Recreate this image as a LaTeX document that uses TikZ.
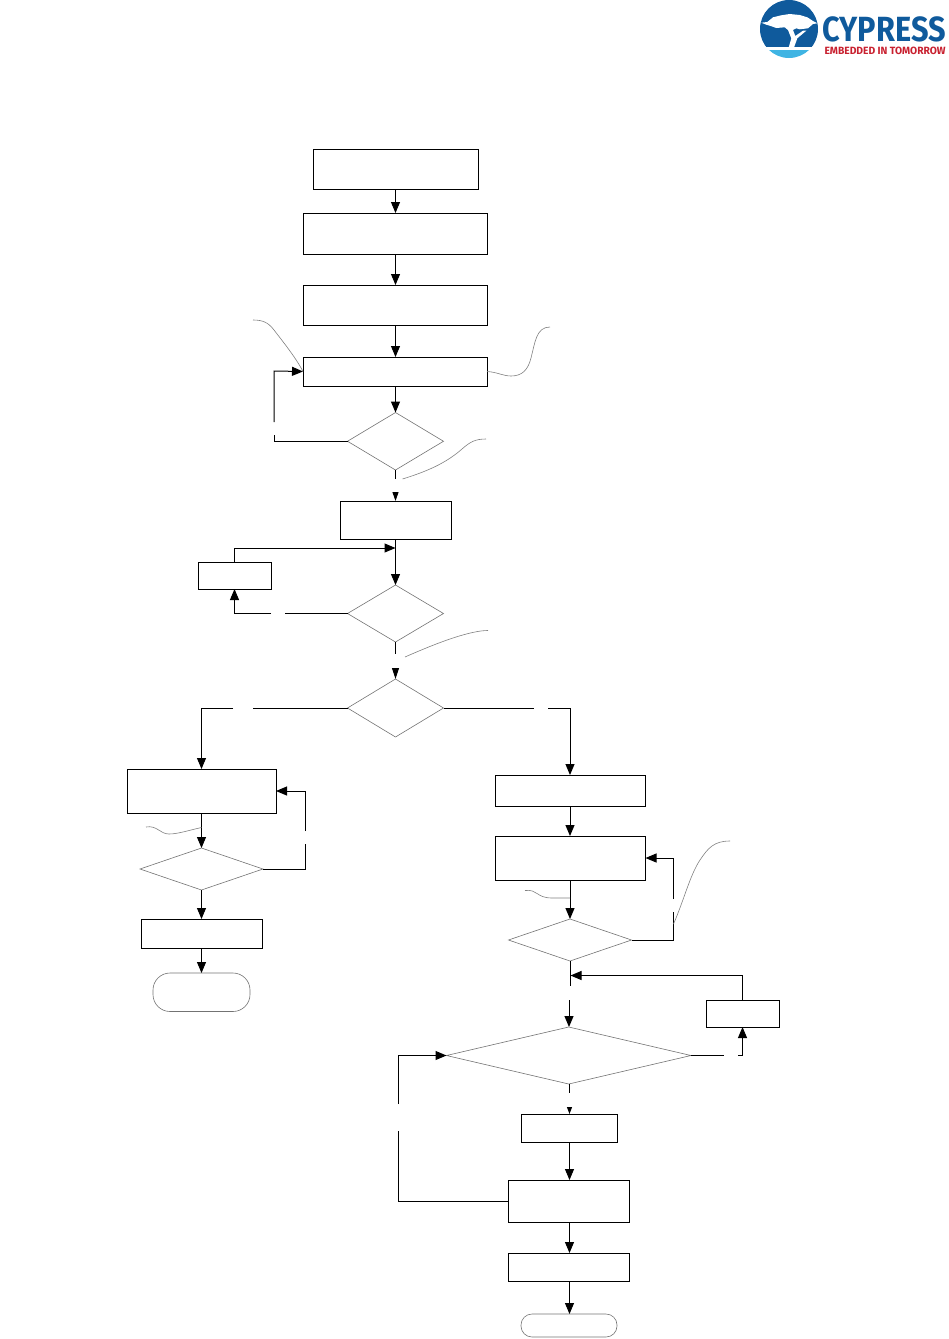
\documentclass[tikz,border=0pt]{standalone}
\usepackage{fontspec}
\setmainfont{Fira Sans}
\usetikzlibrary{arrows.meta,shapes.geometric,calc}
\definecolor{logoblue}{HTML}{0F5A9C}
\definecolor{logosky}{HTML}{3FB4E3}
\definecolor{logored}{HTML}{C8202F}
\definecolor{leadgrey}{HTML}{808080}
\tikzset{
  box/.style={draw=black,line width=1pt,rectangle,inner sep=0pt,outer sep=0pt},
  term/.style={draw=black!55,line width=0.6pt,rectangle,inner sep=0pt,outer sep=0pt},
  conn/.style={draw=black,line width=1pt},
  arr/.style={conn,-{Triangle[length=11pt,width=9pt]}},
  leadline/.style={draw=leadgrey,line width=0.6pt},
}
% left, top, right, bottom
\newcommand{\bx}[6][box]{\path[#1] (#3,#4) rectangle (#5,#6);
  \coordinate (#2c) at ({(#3+#5)/2},{(#4+#6)/2});
  \node[inner sep=0pt,outer sep=0pt,rectangle,minimum width={(#5-#3)*1pt},minimum height={(#6-#4)*1pt}] (#2) at (#2c) {};}
\newcommand{\dm}[5]{\path[draw=black!55,line width=0.6pt] (#2,{(#3+#5)/2}) -- ({(#2+#4)/2},#3) -- (#4,{(#3+#5)/2}) -- ({(#2+#4)/2},#5) -- cycle;
  \coordinate (#1w) at (#2,{(#3+#5)/2});
  \coordinate (#1e) at (#4,{(#3+#5)/2});
  \coordinate (#1n) at ({(#2+#4)/2},#3);
  \coordinate (#1s) at ({(#2+#4)/2},#5);}
\begin{document}
\begin{tikzpicture}[x=1pt,y=-1pt]
\useasboundingbox (0,0) rectangle (949,1339);
% boxes
\bx{b1}{313}{149}{478}{189}
\bx{b2}{303}{213}{487}{254}
\bx{b3}{303}{285}{487}{325}
\bx{b4}{303}{357}{487}{386}
\bx{b5}{340}{501}{451}{539}
\bx{b6}{198}{562}{271.5}{589}
\bx{b7}{127}{769}{276}{813}
\bx{b8}{141}{919}{262.5}{948}
\bx{b9}{495}{775}{645}{806}
\bx{b10}{495}{836}{645.5}{880}
\bx{b11}{706}{1000}{779.5}{1027}
\bx{b12}{521}{1114}{617.5}{1142}
\bx{b13}{508}{1180}{629.5}{1222}
\bx{b14}{508}{1253}{629.5}{1281}
\bx[term,rounded corners=17pt]{t1}{153}{973}{250}{1011.5}
\bx[term,rounded corners=11pt]{t2}{521}{1314}{617}{1337}
% diamonds
\dm{d1}{347.5}{412.5}{443.5}{470}
\dm{d2}{347.5}{585}{443.5}{642}
\dm{d3}{347.5}{679}{443.5}{737}
\dm{d4}{140}{848}{263}{890}
\dm{d5}{508.5}{919}{631.5}{961}
\dm{d6}{446.5}{1027}{691}{1084}
% straight arrows
\draw[arr] (b1.south -| d1n) -- (b2.north -| d1n);
\draw[arr] (b2.south -| d1n) -- (b3.north -| d1n);
\draw[arr] (b3.south -| d1n) -- (b4.north -| d1n);
\draw[arr] (b4.south -| d1n) -- (d1n);
\draw[conn] (d1s) -- ++(0,9);
\coordinate (s1) at (395.5,492);
\draw[conn,-{Triangle[length=9pt,width=6pt]}] (s1) -- (b5.north -| s1);
\draw[arr] (b5.south -| d2n) -- (d2n);
\draw[conn] (d2s) -- ++(0,12);
\coordinate (s2) at (395.5,668);
\draw[conn,-{Triangle[length=11pt,width=7pt]}] (s2) -- (d3n);
% d1 loop
\coordinate (g1a) at (274,435); \coordinate (g1b) at (274,422);
\draw[conn] (d1w) -- (d1w -| g1a) -- (g1a);
\draw[arr] (g1b) -- (274,371) -- (b4.west);
% b6 loop
\draw[arr] (b6.north -| 234.5,0) -- (234.5,548) -- (395.5,548);
\coordinate (g2a) at (285,613.5); \coordinate (g2b) at (271,613.5);
\draw[conn] (d2w) -- (g2a);
\draw[arr] (g2b) -- (234.5,613.5) -- (b6.south -| 234.5,0);
% d3 branches
\coordinate (g3a) at (253,708); \coordinate (g3b) at (233,708);
\draw[conn] (d3w) -- (g3a);
\draw[arr] (g3b) -- (201.5,708) -- (b7.north);
\coordinate (g4a) at (534,708); \coordinate (g4b) at (548,708);
\draw[conn] (d3e) -- (g4a);
\draw[arr] (g4b) -- (570,708) -- (b9.north -| 570,0);
% left branch
\draw[arr] (b7.south) -- (d4n);
\draw[arr] (d4s) -- (b8.north -| d4s);
\draw[arr] (b8.south -| d4s) -- (t1.north -| d4s);
\coordinate (g5a) at (305,844); \coordinate (g5b) at (305,831);
\draw[conn] (d4e) -- (d4e -| g5a) -- (g5a);
\draw[arr] (g5b) -- (305,791) -- (b7.east |- 0,791);
% right branch
\draw[arr] (b9.south -| d5n) -- (b10.north -| d5n);
\draw[arr] (b10.south -| d5n) -- (d5n);
\coordinate (g6a) at (673.5,912); \coordinate (g6b) at (673.5,899);
\draw[conn] (d5e) -- (d5e -| g6a) -- (g6a);
\draw[arr] (g6b) -- (673.5,858) -- (b10.east |- 0,858);
\draw[conn] (d5s -| 570.5,0) -- (570.5,986);
\draw[arr] (569,1000) -- (d6n -| 569,0);
\draw[arr] (b11.north -| 742.5,0) -- (742.5,975.5) -- (570.5,975.5);
\coordinate (g7a) at (724,1055.5); \coordinate (g7b) at (738,1055.5);
\draw[conn] (d6e) -- (g7a);
\draw[arr] (g7b) -- (742.5,1055.5) -- (b11.south -| 742.5,0);
\draw[conn] (d6s -| 569.5,0) -- (569.5,1093);
\coordinate (s3) at (569.5,1107);
\draw[conn,-{Triangle[length=7pt,width=5pt]}] (s3) -- (b12.north -| s3);
\draw[arr] (b12.south -| s3) -- (b13.north -| s3);
\draw[arr] (b13.south -| s3) -- (b14.north -| s3);
\draw[arr] (b14.south -| s3) -- (t2.north -| s3);
\coordinate (g8a) at (398.5,1131); \coordinate (g8b) at (398.5,1104);
\draw[conn] (b13.west) -- (b13.west -| g8a) -- (g8a);
\draw[arr] (g8b) -- (398.5,1055.5) -- (d6w);
% leader curves
\draw[leadline] (253,320) .. controls (262,320) and (268,322) .. (274,330) .. controls (284,343) and (296,358) .. (b4.west);
\draw[leadline] (b4.east) .. controls (497,372) and (503,376) .. (511,376) .. controls (522,376) and (528,370) .. (531,358) .. controls (535,343) and (536,327) .. (550,327);
\draw[leadline] (402.5,479) .. controls (425,472) and (445,464) .. (462,449) .. controls (470,442) and (475,439) .. (486,439);
\draw[leadline] (405,657) .. controls (430,646) and (455,636) .. (475,632) .. controls (480,631) and (484,630.5) .. (488,630.5);
\draw[leadline] (146,827) .. controls (157,825) and (160,834) .. (169,834) .. controls (178,834) and (190,830) .. (201.5,827.5);
\draw[leadline] (525,890.5) .. controls (538,889) and (536,898) .. (552,898) -- (570,898);
\draw[leadline] (673.5,924) .. controls (684,900) and (690,875) .. (700,860) .. controls (708,848) and (714,841) .. (730,841);
% logo
\begin{scope}
\clip (789,29) circle[radius=29];
\fill[logoblue] (758,-2) rectangle (820,47);
\fill[logosky] (758,50) rectangle (820,60);
\path[fill=white] (761.3,22.7) -- (767.3,22) -- (773,17.3) -- (781.3,15.3) -- (789.7,14) -- (799.7,15) -- (807.3,17.3) -- (813,21) -- (817.3,23.3) -- (813,24) -- (808,28.3) -- (799.7,29.3) -- (796.3,28.3) -- (793,30) -- (795.3,36) -- (803,30.7) -- (806.3,30.7) -- (797.3,38.3) -- (794,47.5) -- (788.7,47.5) -- (791.3,38.3) -- (788,30) -- (784.7,27.3) -- (776.3,28) -- (770.7,26) -- (766.3,24.7) -- cycle;
\end{scope}
\node[inner sep=0pt,outer sep=0pt,anchor=base west,text=logoblue,text depth=0pt] (logotext) at (822.5,41.5)
  {\scalebox{0.93}[1.06]{\fontsize{33}{33}\selectfont\bfseries CYPRESS}};
\node[inner sep=0pt,outer sep=0pt,anchor=base west,text=logored,text depth=0pt,text height=7pt] (logotag) at (824.5,54.5)
  {\scalebox{0.98}[1]{\fontsize{10.5}{11}\selectfont\bfseries EMBEDDED IN TOMORROW}};
\end{tikzpicture}
\end{document}
